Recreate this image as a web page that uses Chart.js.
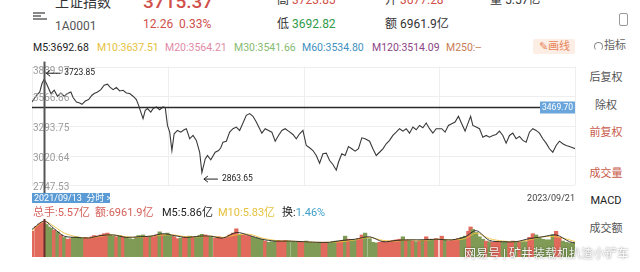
<!DOCTYPE html>
<html><head><meta charset="utf-8">
<script src="https://cdn.jsdelivr.net/npm/chart.js@4.4.1/dist/chart.umd.min.js"></script>
<style>
html,body{margin:0;padding:0;background:#fff;}
body{width:640px;height:272px;position:relative;overflow:hidden;font-family:Roboto,"Noto Sans CJK SC",sans-serif;}
.t{position:absolute;white-space:nowrap;line-height:1;}
canvas{position:absolute;}
.side{position:absolute;left:576px;width:60px;text-align:center;font-size:11px;line-height:1;}
</style></head><body>

<!-- top header (partly cut) -->
<div style="position:absolute;left:33px;top:12px;width:12px;height:1.5px;background:#888"></div>
<div style="position:absolute;left:33px;top:15px;width:8px;height:1.5px;background:#888"></div>
<div style="position:absolute;left:33px;top:18px;width:14px;height:1.5px;background:#888"></div>
<div class="t" style="left:55px;top:-5px;font-size:14px;color:#333">上证指数</div>
<div class="t" style="left:55px;top:20px;font-size:12px;color:#555">1A0001</div>
<div class="t" style="left:143px;top:-8px;font-size:19px;color:#d0504a;font-weight:500">3715.37</div>
<div class="t" style="left:143px;top:18px;font-size:12px;color:#d0504a">12.26&nbsp; 0.33%</div>
<div class="t" style="left:277px;top:-6px;font-size:12px;color:#333">高 <span style="color:#d0504a">3723.85</span></div>
<div class="t" style="left:277px;top:18px;font-size:12px;color:#333">低 <span style="color:#2e9a4a">3692.82</span></div>
<div class="t" style="left:385px;top:-6px;font-size:12px;color:#333">开 <span style="color:#d0504a">3677.28</span></div>
<div class="t" style="left:385px;top:18px;font-size:12px;color:#333">额 6961.9亿</div>
<div class="t" style="left:490px;top:-6px;font-size:12px;color:#333">量 5.57亿</div>
<div style="position:absolute;left:619px;top:13px;width:7px;height:11px;border:1px solid #999;border-radius:2px"></div>

<!-- MA legend -->
<div class="t" style="left:33px;top:43px;font-size:10.5px;color:#222">M5:3692.68</div>
<div class="t" style="left:97px;top:43px;font-size:10.5px;color:#e6c13c">M10:3637.51</div>
<div class="t" style="left:165px;top:43px;font-size:10.5px;color:#e08aa8">M20:3564.21</div>
<div class="t" style="left:234px;top:43px;font-size:10.5px;color:#86bb72">M30:3541.66</div>
<div class="t" style="left:302px;top:43px;font-size:10.5px;color:#3f8fc0">M60:3534.80</div>
<div class="t" style="left:372px;top:43px;font-size:10.5px;color:#8a4585">M120:3514.09</div>
<div class="t" style="left:446px;top:43px;font-size:10.5px;color:#c77c55">M250:--</div>
<div style="position:absolute;left:533px;top:39px;width:42px;height:15px;background:#fdeee5;border-radius:2px"></div>
<div class="t" style="left:539px;top:41px;font-size:11px;color:#e8845a">✎画线</div>
<div style="position:absolute;left:594px;top:42px;width:7px;height:7px;border:1px solid #888;border-bottom-color:transparent;border-radius:50%"></div>
<div class="t" style="left:604px;top:40px;font-size:11px;color:#666">指标</div>

<!-- right panel -->
<div class="side" style="top:72px;color:#555">后复权</div>
<div class="side" style="top:100px;color:#555">除权</div>
<div class="side" style="top:127px;color:#c85a4a">前复权</div>
<div class="side" style="top:168px;color:#c85a4a">成交量</div>
<div class="side" style="top:195px;color:#222">MACD</div>
<div class="side" style="top:223px;color:#555">成交额</div>

<canvas id="price" width="580" height="140" style="left:0;top:56px"></canvas>

<div style="position:absolute;left:32px;top:193px;width:78px;height:10px;background:#5b9bd5"></div>
<div class="t" style="left:34px;top:193.5px;font-size:9px;color:#fff">2021/09/13&nbsp;&nbsp;分时 &gt;</div>
<div class="t" style="right:65px;top:194px;font-size:9px;color:#444">2023/09/21</div>

<!-- volume info -->
<div class="t" style="left:33px;top:207px;font-size:11px;color:#d5605a">总手:5.57亿</div>
<div class="t" style="left:95px;top:207px;font-size:11px;color:#d5605a">额:6961.9亿</div>
<div class="t" style="left:162px;top:207px;font-size:11px;color:#222">M5:5.86亿</div>
<div class="t" style="left:218px;top:207px;font-size:11px;color:#e6c13c">M10:5.83亿</div>
<div class="t" style="left:282px;top:207px;font-size:11px;color:#222">换:<span style="color:#3fa0c8">1.46%</span></div>

<canvas id="vol" width="580" height="42" style="left:0;top:216px"></canvas>

<div class="t" style="left:464px;top:248px;font-size:12px;color:rgba(255,255,255,0.92);text-shadow:0 0 2px rgba(0,0,0,0.55)">网易号 | 矿井装载机扒渣小铲车</div>

<script>
// ---- data ----
const tradingDay = [
  0,4,7,9,11,13,15,17,20,23,
  26,29,32,35,37,40,43,45,48,51,
  54,56,59,62,65,68,70,73,76,79,
  82,85,88,91,94,96,98,100,102,104,
  107,109,112,115,118,120,122,124,126,128,
  131,134,137,139,142,145,148,151,153,156,
  158,161,165,168,170,172,175,178,181,184,
  187,190,193,196,199,202,205,207,210,213,
  216,219,222,225,228,231,235,238,241,244,
  247,250,253,256,259,262,265,268,271,274,
  276,279,282,285,288,291,294,297,300,304,
  307,310,313,316,319,322,325,328,331,334,
  337,340,343,346,349,352,355,358,361,364,
  369,372,375,378,381,384,387,390,393,395,
  397,400,403,406,409,412,415,418,421,424,
  427,430,433,436,439,442,445,448,451,454,
  457,460,463,466,469,472,475,478,481,484,
  487,489
];
const closePrice = [
  3514,3576,3606,3684,3723.85,3684,3638,3592,3622,3567,
  3597,3567,3592,3606,3555,3514,3505,3493,3523,3536,
  3576,3592,3606,3628,3668,3678,3653,3628,3647,3616,
  3622,3597,3592,3567,3536,3483,3421,3360,3437,3453,
  3421,3453,3468,3443,3468,3462,3298,3236,3067,3221,
  3252,3236,3258,3268,3175,3206,3160,3051,2863.65,2990,
  3021,2981,3051,3067,3092,3144,3153,3236,3268,3283,
  3252,3320,3391,3407,3382,3329,3268,3227,3268,3252,
  3236,3153,3206,3252,3268,3246,3215,3175,3221,3252,
  3113,3092,3067,3021,2950,3037,3043,2975,2938,2886,
  2959,3037,3021,3104,3083,3061,3083,3184,3175,3153,
  3083,3021,3051,3083,3129,3160,3206,3236,3268,3246,
  3268,3227,3283,3258,3298,3277,3320,3268,3227,3268,
  3268,3236,3298,3314,3329,3382,3314,3246,3329,3382,
  3298,3283,3268,3190,3206,3190,3206,3215,3246,3206,
  3135,3206,3227,3175,3197,3160,3144,3236,3268,3252,
  3227,3175,3135,3083,3051,3113,3153,3129,3113,3104,
  3092,3084
];
const volumeYi = [
  4.2,5.0,5.4,5.6,5.57,5.3,4.9,4.7,4.4,4.1,
  3.6,3.2,2.9,3.0,3.2,3.3,3.1,3.0,3.2,3.1,
  3.3,3.5,3.4,3.6,3.8,3.9,3.6,3.4,3.3,3.5,
  3.3,3.2,3.0,2.9,3.2,3.5,3.4,3.6,3.3,3.2,
  3.4,3.3,3.6,4.1,3.7,3.6,3.9,3.5,3.4,3.3,
  3.0,3.1,3.2,3.3,3.4,3.2,3.3,3.5,3.7,3.6,
  3.4,3.3,3.1,3.3,3.2,3.0,3.2,3.6,3.9,4.6,
  3.7,3.6,3.5,3.4,3.2,3.1,2.9,2.8,2.6,2.4,
  2.5,2.6,2.7,2.6,2.7,2.6,2.5,2.4,2.4,2.5,
  2.6,2.4,2.3,2.3,2.4,2.3,2.4,2.3,2.5,2.6,
  2.5,2.7,3.4,2.9,2.8,2.7,3.0,3.6,3.9,3.0,
  2.4,2.3,2.4,2.5,2.4,2.6,2.7,2.8,2.9,3.3,
  2.8,2.7,2.6,2.5,2.6,2.8,3.3,2.9,2.8,3.0,
  3.4,2.8,2.6,2.7,2.8,3.0,3.2,3.4,4.2,4.9,
  4.5,4.0,3.3,2.9,2.6,2.5,2.4,2.5,2.5,2.4,
  2.5,2.4,2.6,2.5,2.4,2.5,2.5,3.2,3.8,3.6,
  3.1,2.9,2.8,2.8,3.6,4.2,3.2,2.6,2.4,2.3,
  2.3,2.2
];
const maDay = [0,11,20,29,40,51,62,73,85,96,107,118,128,139,151,161,172,184,196,207,219,231,244,256,268,279,291,304,316,328,340,352,364,378,390,400,412,424,436,448,460,472,484,489];
const volMA5 = [4.5,5.86,4.6,3.4,3.2,3.1,3.5,3.6,3.2,3.3,3.4,3.8,3.5,3.2,3.4,3.4,3.1,4.0,3.5,2.9,2.6,2.6,2.5,2.4,2.4,2.7,2.9,3.3,2.5,2.7,2.8,2.8,2.9,2.8,3.3,4.3,2.7,2.5,2.5,3.0,3.3,3.6,2.5,2.3];
const volMA10 = [4.3,5.83,5.0,3.9,3.3,3.1,3.4,3.6,3.3,3.2,3.4,3.6,3.6,3.3,3.3,3.4,3.2,3.6,3.7,3.1,2.7,2.6,2.5,2.4,2.4,2.5,2.8,3.2,2.7,2.6,2.8,2.7,2.9,2.8,3.0,3.9,3.0,2.6,2.5,2.8,3.3,3.3,2.8,2.5];
const priceTickLabels = ["3839.97","3566.86","3293.75","3020.64","2747.53"];
const refLevel = 3469.70;
const crossDay = 11;
const lastDay = 489;
const volMax = 6.2;

// ---- charts ----
const priceTicks = priceTickLabels.map(Number);
const pricePts = tradingDay.map((d,i)=>({x:d,y:closePrice[i]}));

const gridPlugin = {
  id:'grid',
  beforeDatasetsDraw(chart){
    const {ctx, chartArea:a, scales:{y}} = chart;
    ctx.save();
    ctx.strokeStyle='#eeeeee'; ctx.lineWidth=1;
    priceTicks.forEach(v=>{
      const py=Math.round(y.getPixelForValue(v))+0.5;
      ctx.beginPath(); ctx.moveTo(a.left,py); ctx.lineTo(a.right,py); ctx.stroke();
    });
    for(let k=0;k<=4;k++){
      const px=Math.round(a.left+(a.right-a.left)*k/4)+0.5;
      ctx.beginPath(); ctx.moveTo(px,a.top); ctx.lineTo(px,a.bottom); ctx.stroke();
    }
    ctx.restore();
  }
};

function arrowNote(ctx, px, ay, text){
  ctx.strokeStyle='#222'; ctx.lineWidth=1;
  ctx.beginPath(); ctx.moveTo(px+2,ay); ctx.lineTo(px+16,ay);
  ctx.moveTo(px+6,ay-3); ctx.lineTo(px+2,ay); ctx.lineTo(px+6,ay+3); ctx.stroke();
  ctx.fillStyle='#222'; ctx.font='8.5px Roboto'; ctx.textAlign='left'; ctx.textBaseline='middle';
  ctx.fillText(text, px+20, ay);
}

const overlayPlugin = {
  id:'overlay',
  afterDatasetsDraw(chart){
    const {ctx, chartArea:a, scales:{x,y}} = chart;
    ctx.save();
    ctx.font='10px Roboto'; ctx.fillStyle='#9b9b9b'; ctx.textAlign='left'; ctx.textBaseline='middle';
    priceTicks.forEach((v,i)=>{
      ctx.fillText(priceTickLabels[i], a.left+1, y.getPixelForValue(v)+(i===0?5:2.5));
    });
    const ry=Math.round(y.getPixelForValue(refLevel))+0.5;
    ctx.strokeStyle='#2a2a2a'; ctx.lineWidth=1.3;
    ctx.beginPath(); ctx.moveTo(a.left,ry); ctx.lineTo(a.right-35,ry); ctx.stroke();
    ctx.fillStyle='#6aa6dc'; ctx.fillRect(a.right-35,ry-6,35,12);
    ctx.fillStyle='#fff'; ctx.font='8.5px Roboto'; ctx.textAlign='center';
    ctx.fillText(refLevel.toFixed(2), a.right-17.5, ry+0.5);
    const cx=Math.round(x.getPixelForValue(crossDay))+0.5;
    ctx.strokeStyle='#555'; ctx.lineWidth=2;
    ctx.beginPath(); ctx.moveTo(cx,a.top-5); ctx.lineTo(cx,a.bottom+9); ctx.stroke();
    let hi=0, lo=0;
    closePrice.forEach((v,i)=>{ if(v>closePrice[hi]) hi=i; if(v<closePrice[lo]) lo=i; });
    const hx=x.getPixelForValue(tradingDay[hi]), hy=y.getPixelForValue(closePrice[hi]);
    arrowNote(ctx, hx, hy-6, closePrice[hi].toFixed(2));
    const lx=x.getPixelForValue(tradingDay[lo]), ly=y.getPixelForValue(closePrice[lo]);
    arrowNote(ctx, lx, ly+6.5, closePrice[lo].toFixed(2));
    ctx.restore();
  }
};

new Chart(document.getElementById('price'), {
  type:'line',
  data:{datasets:[{data:pricePts, borderColor:'#3a3a3a', borderWidth:1.1, pointRadius:0, tension:0, fill:false}]},
  options:{
    responsive:false, animation:false, devicePixelRatio:1,
    layout:{padding:{left:32,right:5,top:10.6,bottom:10.8}},
    plugins:{legend:{display:false}, tooltip:{enabled:false}},
    scales:{
      x:{type:'linear', display:false, min:0, max:lastDay},
      y:{display:false, min:priceTicks[priceTicks.length-1], max:priceTicks[0]}
    }
  },
  plugins:[gridPlugin, overlayPlugin]
});

const upColor='#e26a5c', downColor='#7f9b55';
const barColors = closePrice.map((v,i)=> (i===0 || v>=closePrice[i-1]) ? upColor : downColor);

const volCross = {
  id:'volCross',
  afterDatasetsDraw(chart){
    const {ctx, chartArea:a, scales:{x}} = chart;
    const cx=Math.round(x.getPixelForValue(crossDay))+0.5;
    ctx.save(); ctx.strokeStyle='#6a2e2a'; ctx.lineWidth=2;
    ctx.beginPath(); ctx.moveTo(cx,a.top); ctx.lineTo(cx,a.bottom); ctx.stroke(); ctx.restore();
  }
};

new Chart(document.getElementById('vol'), {
  data:{datasets:[
    {type:'line', data:maDay.map((d,i)=>({x:d,y:volMA5[i]})), borderColor:'#222', borderWidth:0.9, pointRadius:0, tension:0.3, order:1},
    {type:'line', data:maDay.map((d,i)=>({x:d,y:volMA10[i]})), borderColor:'#f0c23c', borderWidth:0.9, pointRadius:0, tension:0.3, order:2},
    {type:'bar', data:tradingDay.map((d,i)=>({x:d,y:volumeYi[i]})), backgroundColor:barColors, borderWidth:0, barThickness:3.6, order:3}
  ]},
  options:{
    responsive:false, animation:false, devicePixelRatio:1,
    layout:{padding:{left:32,right:5,top:3,bottom:1}},
    plugins:{legend:{display:false}, tooltip:{enabled:false}},
    scales:{
      x:{type:'linear', display:false, min:0, max:lastDay, offset:false},
      y:{display:false, min:0, max:volMax}
    }
  },
  plugins:[volCross]
});
</script>
</body></html>
